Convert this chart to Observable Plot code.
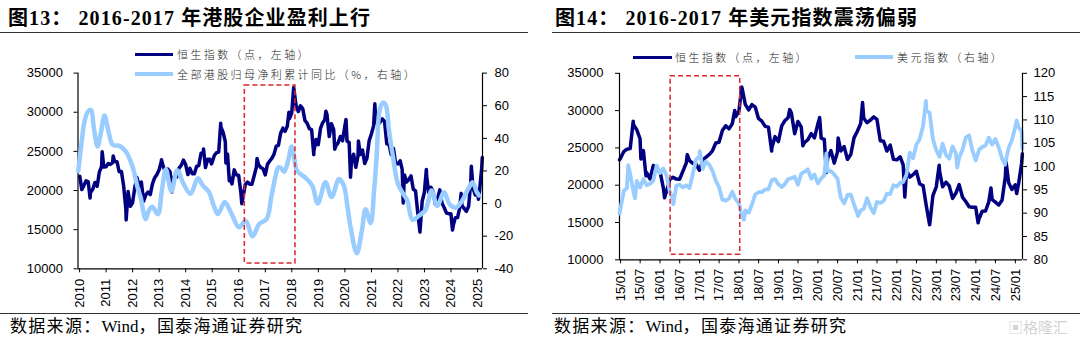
<!DOCTYPE html>
<html><head><meta charset="utf-8">
<script src="https://cdn.jsdelivr.net/npm/d3@7"></script>
<script src="https://cdn.jsdelivr.net/npm/@observablehq/plot@0.6"></script>
<style>
html,body{margin:0;padding:0;background:#fff}
body{width:1080px;height:337px;overflow:hidden;position:relative}
.title{position:absolute;font-family:"Liberation Serif","Noto Sans CJK SC",serif;font-weight:bold;font-size:20px;letter-spacing:1.1px;white-space:pre;line-height:20px;color:#000}
.rule{position:absolute;height:0;border-top:1.3px solid #333}
.src{position:absolute;font-family:"Liberation Serif","Noto Sans CJK SC",serif;font-size:17px;letter-spacing:1.3px;white-space:pre;line-height:18px;color:#000}
.src span{letter-spacing:0}
.legtxt{position:absolute;font-family:"Noto Sans CJK SC",sans-serif;font-size:11px;font-weight:300;letter-spacing:2.4px;white-space:nowrap;line-height:16px;color:#222}
.legline{position:absolute;height:0}
.panel{position:absolute;top:0;width:540px;height:337px}
.panel svg{position:absolute;left:0;top:0;overflow:visible}
.wm{position:absolute;font-family:"Noto Sans CJK SC",sans-serif;font-size:15px;color:#d4d4d4;white-space:nowrap}
</style></head><body>
<div class="title" style="left:8px;top:8px">图13： 2016-2017 年港股企业盈利上行</div>
<div class="rule" style="left:0;width:528px;top:32px"></div>
<div class="title" style="left:555px;top:8px">图14： 2016-2017 年美元指数震荡偏弱</div>
<div class="rule" style="left:552px;width:528px;top:32px"></div>
<div class="panel" id="left" style="left:0"></div>
<div class="panel" id="right" style="left:540px"></div>
<div class="legline" style="left:135px;width:38px;top:52.5px;border-top:3px solid #000080"></div>
<div class="legtxt" style="left:177px;top:46px">恒生指数（点，左轴）</div>
<div class="legline" style="left:135px;width:38px;top:72px;border-top:4px solid #99CCFF"></div>
<div class="legtxt" style="left:177px;top:66px">全部港股归母净利累计同比（%，右轴）</div>
<div class="legline" style="left:633px;width:39px;top:55.5px;border-top:3px solid #000080"></div>
<div class="legtxt" style="left:675px;top:49px">恒生指数（点，左轴）</div>
<div class="legline" style="left:855px;width:38px;top:55px;border-top:4px solid #99CCFF"></div>
<div class="legtxt" style="left:897px;top:49px">美元指数（右轴）</div>
<div class="rule" style="left:0;width:528px;top:313px"></div>
<div class="src" style="left:10px;top:318px">数据来源：<span>Wind</span>，国泰海通证券研究</div>
<div class="rule" style="left:552px;width:528px;top:313px"></div>
<div class="src" style="left:554px;top:318px">数据来源：<span>Wind</span>，国泰海通证券研究</div>
<div class="wm" style="left:1008px;top:316px">▣格隆汇</div>
<script>
// ---------------- DATA ----------------
// Hang Seng Index, month-end closes, 2010-01 ... 2025-02
const hsiFirstYear = 2010;
const hsiMonthly = [
  20122, 20609, 21239, 21108, 19765, 20129, 21030, 20536, 22359, 23096, 23008, 23035,
  23447, 23338, 23528, 23720, 23684, 22398, 22440, 20535, 17592, 19864, 17989, 18434,
  20390, 21680, 20556, 21094, 18630, 19441, 19796, 19482, 20840, 21642, 22030, 22657,
  23730, 23020, 22300, 22737, 22392, 20803, 21883, 21731, 22860, 23206, 23881, 23306,
  22035, 22837, 22151, 22134, 23082, 23191, 24757, 24742, 22933, 23998, 23987, 23605,
  24507, 24823, 24901, 28133, 27424, 26250, 24636, 21670, 20846, 22640, 21996, 21914,
  19683, 19112, 20777, 21067, 20815, 20794, 21891, 22977, 23297, 22935, 22790, 22001,
  23361, 23741, 24112, 24615, 25661, 25765, 27324, 27970, 27554, 28246, 29177, 29919,
  32887, 30845, 30093, 30808, 30469, 28955, 28583, 27889, 27789, 24980, 26507, 25846,
  27942, 28633, 29051, 29699, 26901, 28543, 27777, 25725, 26092, 26907, 26346, 28190,
  26313, 26130, 23603, 24644, 22961, 24427, 24595, 25177, 23459, 24107, 26341, 27231,
  28284, 28980, 28378, 28725, 29152, 28828, 25961, 25879, 24576, 25377, 23475, 23398,
  23802, 22713, 21997, 21089, 21415, 21860, 20157, 19954, 17223, 14687, 18597, 19781,
  21842, 19786, 20400, 19895, 18234, 18916, 20079, 18382, 17810, 17112, 17043, 17047,
  15485, 16511, 16541, 17763, 18080, 17719, 17344, 17989, 21134, 20317, 19424, 20060,
  20225, 22941
];
// Hang Seng Index, intra-month highs/lows visible in the picture
const hsiExtraDates = ["2010-01-04","2010-05-25","2010-11-08","2011-04-08","2011-10-04","2013-02-01","2013-06-24","2014-09-03","2014-12-22","2015-04-28","2015-07-08","2015-08-24","2016-02-12","2016-09-09","2017-11-22","2018-01-26","2018-10-30","2019-04-15","2019-08-15","2020-01-17","2020-03-19","2020-07-06","2021-02-17","2022-03-15","2023-01-27","2024-01-22","2024-05-20","2024-10-07","2025-01-13","2025-03-07"];
const hsiExtraValues = [21823, 19035, 24964, 24400, 16250, 23944, 19814, 25318, 23400, 28588, 23516, 21252, 18320, 24100, 30003, 33154, 24585, 30130, 25281, 29056, 21696, 26339, 31084, 18415, 22688, 14961, 19636, 23100, 18874, 24231];

// All HK stocks net profit attributable to parent, cumulative YoY (%), right axis
const profitYears = [2009.95,2010.08,2010.17,2010.30,2010.42,2010.55,2010.68,2010.82,2010.94,2011.08,2011.25,2011.48,2011.74,2011.99,2012.20,2012.30,2012.49,2012.62,2012.74,2012.95,2013.10,2013.25,2013.46,2013.68,2013.92,2014.18,2014.46,2014.65,2014.88,2015.05,2015.22,2015.47,2015.72,2016.01,2016.26,2016.52,2016.77,2017.05,2017.22,2017.40,2017.48,2017.58,2017.71,2017.87,2017.99,2018.08,2018.20,2018.50,2018.77,2018.98,2019.27,2019.50,2019.78,2019.96,2020.10,2020.22,2020.45,2020.64,2020.78,2020.97,2021.10,2021.20,2021.32,2021.45,2021.55,2021.66,2021.80,2022.00,2022.20,2022.35,2022.55,2022.79,2023.04,2023.27,2023.48,2023.74,2023.95,2024.18,2024.43,2024.65,2024.82,2024.97,2025.06];
const profitValues = [20,38,49,56,57.5,45,35,45,54,45,36,35.5,32,23,9,4,-9.5,-4,-2,-6.5,8,21,7.5,20.5,12,6,15.5,11,7,-1,-6.5,1,-6,-14.5,-10.5,-20,-12.5,-9.5,3.5,18,22,22,19.5,27,35,29,20,16,11,0,13,4,15,11,-2,-15,-30.5,-16.5,-3.5,-12,8,30,58,62,60,45,30,12,6,2,-10,-7.5,-4,8,-1.5,7,-0.5,-2.5,2,9,13,7,5];

// US Dollar Index, month-end, 2015-01 ... 2025-02
const dxyFirstYear = 2015;
const dxyMonthly = [
  94.8, 95.3, 98.4, 94.6, 96.9, 95.5, 97.3, 96.0, 96.3, 97.0, 100.2, 98.6,
  99.6, 98.2, 94.6, 93.1, 95.9, 96.1, 95.5, 96.0, 95.4, 98.5, 101.5, 102.2,
  99.5, 101.1, 100.4, 99.1, 97.0, 95.6, 92.9, 92.7, 93.1, 94.6, 93.0, 92.1,
  89.1, 90.6, 90.1, 91.8, 94.0, 94.5, 94.5, 95.1, 95.1, 97.1, 97.3, 96.2,
  95.6, 96.2, 97.3, 97.5, 97.8, 96.1, 98.5, 98.9, 99.4, 97.4, 98.3, 96.4,
  97.4, 98.1, 99.0, 99.0, 98.3, 97.4, 93.3, 92.1, 93.9, 94.0, 91.9, 89.9,
  90.6, 90.9, 93.2, 91.3, 90.0, 92.4, 92.2, 92.6, 94.2, 94.1, 96.0, 95.7,
  96.5, 96.7, 98.3, 103.0, 101.8, 104.7, 105.9, 108.7, 112.1, 111.5, 105.9, 103.5,
  102.1, 104.9, 102.5, 101.7, 104.3, 102.9, 101.9, 103.6, 106.2, 106.7, 103.5, 101.3,
  103.6, 104.2, 104.5, 106.2, 104.7, 105.9, 104.1, 101.7, 100.8, 104.0, 105.7, 108.5,
  108.4, 107.6
];
const dxyExtraDates = ["2014-12-22","2015-03-13","2015-05-15","2015-12-02","2016-05-03","2017-01-03","2018-02-16","2020-03-19","2021-01-06","2022-09-27","2023-07-13","2024-09-27","2025-01-13","2025-03-07"];
const dxyExtraValues = [89.9, 100.3, 93.2, 100.2, 91.9, 103.3, 88.6, 102.8, 89.4, 114.1, 99.8, 100.4, 109.9, 103.8];

// axes
const leftYears = ["2010","2011","2012","2013","2014","2015","2016","2017","2018","2019","2020","2021","2022","2023","2024","2025"];
const hsiTicks = [10000, 15000, 20000, 25000, 30000, 35000];
const profitTicks = [-40, -20, 0, 20, 40, 60, 80];
const dxyTicks = [80, 85, 90, 95, 100, 105, 110, 115, 120];
const rightHalfYears = ["15/01","15/07","16/01","16/07","17/01","17/07","18/01","18/07","19/01","19/07","20/01","20/07","21/01","21/07","22/01","22/07","23/01","23/07","24/01","24/07","25/01"];
const leftDomain = ["2009-12-10", "2025-03-10"];
const rightDomain = ["2014-12-22", "2025-03-08"];
// highlighted windows
const leftBox = [{start: "2016-03-25", end: "2018-02-20", top: 72.4, bottom: -36.7}];
const rightBox = [{start: "2016-04-08", end: "2018-01-12", top: 34610, bottom: 10690}];

// ---------------- BUILD ----------------
const parse = d3.utcParse("%Y-%m-%d");
const monthEnd = (y, m) => new Date(Date.UTC(y, m + 1, 0));
function monthly(firstYear, vals) {
  return vals.map((v, i) => ({date: monthEnd(firstYear + Math.floor(i / 12), i % 12), value: v}));
}
function extras(ds, vs) { return ds.map((d, i) => ({date: parse(d), value: vs[i]})); }
function yearToDate(y) {
  const yr = Math.floor(y), a = Date.UTC(yr, 0, 1), b = Date.UTC(yr + 1, 0, 1);
  return new Date(a + (y - yr) * (b - a));
}
const hsi = monthly(hsiFirstYear, hsiMonthly).concat(extras(hsiExtraDates, hsiExtraValues)).sort((a, b) => a.date - b.date);
const dxy = monthly(dxyFirstYear, dxyMonthly).concat(extras(dxyExtraDates, dxyExtraValues)).sort((a, b) => a.date - b.date);
const profit = profitYears.map((y, i) => ({date: yearToDate(y), value: profitValues[i]}));
const lDom = leftDomain.map(parse), rDom = rightDomain.map(parse);
const hsiRight = hsi.filter(d => d.date >= rDom[0] && d.date <= rDom[1]);
const dxyRight = dxy.filter(d => d.date >= rDom[0] && d.date <= rDom[1]);
const leftYearDates = leftYears.map(y => new Date(Date.UTC(+y, 0, 1)));
const rightTickDates = rightHalfYears.map(s => new Date(Date.UTC(2000 + +s.slice(0, 2), +s.slice(3) - 1, 1)));

const DARK = "#000080", LIGHT = "#99CCFF", RED = "#E0262B";
const baseStyle = {fontFamily: "'Liberation Sans', Arial, sans-serif", fontSize: "13px", color: "#000", background: "transparent", overflow: "visible"};

function panel(el, o) {
  const common = {width: 540, height: 337, marginLeft: o.ml, marginRight: o.mr, marginTop: o.mt, marginBottom: o.mb, style: baseStyle};
  const under = Plot.plot({...common,
    x: {type: "utc", domain: o.xDomain},
    y: {domain: [10000, 35000]},
    marks: [
      Plot.line(o.dark, {x: "date", y: "value", stroke: DARK, strokeWidth: 3.5, strokeLinejoin: "round"}),
      Plot.ruleX([o.xDomain[0]], {stroke: "#000", strokeWidth: 1.2}),
      Plot.ruleY([10000], {stroke: "#000", strokeWidth: 1.2}),
      Plot.axisY({ticks: hsiTicks, tickFormat: d => String(d), tickSize: 4, tickPadding: o.lpad, label: null, fontSize: 13}),
      Plot.axisX({ticks: o.xTicks, tickFormat: o.xFormat, tickRotate: -90, tickSize: 4, tickPadding: o.xpad, label: null, fontSize: 13})
    ]});
  const over = Plot.plot({...common,
    x: {type: "utc", domain: o.xDomain, axis: null},
    y: {domain: o.rDomain, axis: null},
    marks: [
      Plot.line(o.light, {x: "date", y: "value", stroke: LIGHT, strokeWidth: o.lw, strokeLinejoin: "round", curve: o.curve}),
      Plot.rect(o.box, {x1: d => parse(d.start), x2: d => parse(d.end), y1: "bottom", y2: "top", fill: "none", stroke: RED, strokeWidth: 1.5, strokeDasharray: "5,3"}),
      Plot.ruleX([o.xDomain[1]], {stroke: "#000", strokeWidth: 1.2}),
      Plot.axisY({anchor: "right", ticks: o.rTicks, tickFormat: d => String(d), tickSize: 4, tickPadding: o.rpad, label: null, fontSize: 13})
    ]});
  el.appendChild(under);
  el.appendChild(over);
}

panel(document.getElementById("left"), {
  ml: 77.5, mr: 58, mt: 72.6, mb: 68.7, xDomain: lDom,
  dark: hsi, light: profit, lw: 4.5, curve: "catmull-rom",
  rDomain: [-40, 80], rTicks: profitTicks, box: leftBox,
  xTicks: leftYearDates, xFormat: d => leftYears[leftYearDates.findIndex(t => +t === +d)], xpad: 6,
  lpad: 11, rpad: 8
});
panel(document.getElementById("right"), {
  ml: 79, mr: 58, mt: 72.8, mb: 77.7, xDomain: rDom,
  dark: hsiRight, light: dxyRight, lw: 3.8, curve: "linear",
  rDomain: [80, 120], rTicks: dxyTicks, box: rightBox.map(b => ({...b, top: 80 + (b.top - 10000) / 625, bottom: 80 + (b.bottom - 10000) / 625})),
  xTicks: rightTickDates, xFormat: d => rightHalfYears[rightTickDates.findIndex(t => +t === +d)], xpad: 5,
  lpad: 12, rpad: 7
});
</script>
</body></html>
